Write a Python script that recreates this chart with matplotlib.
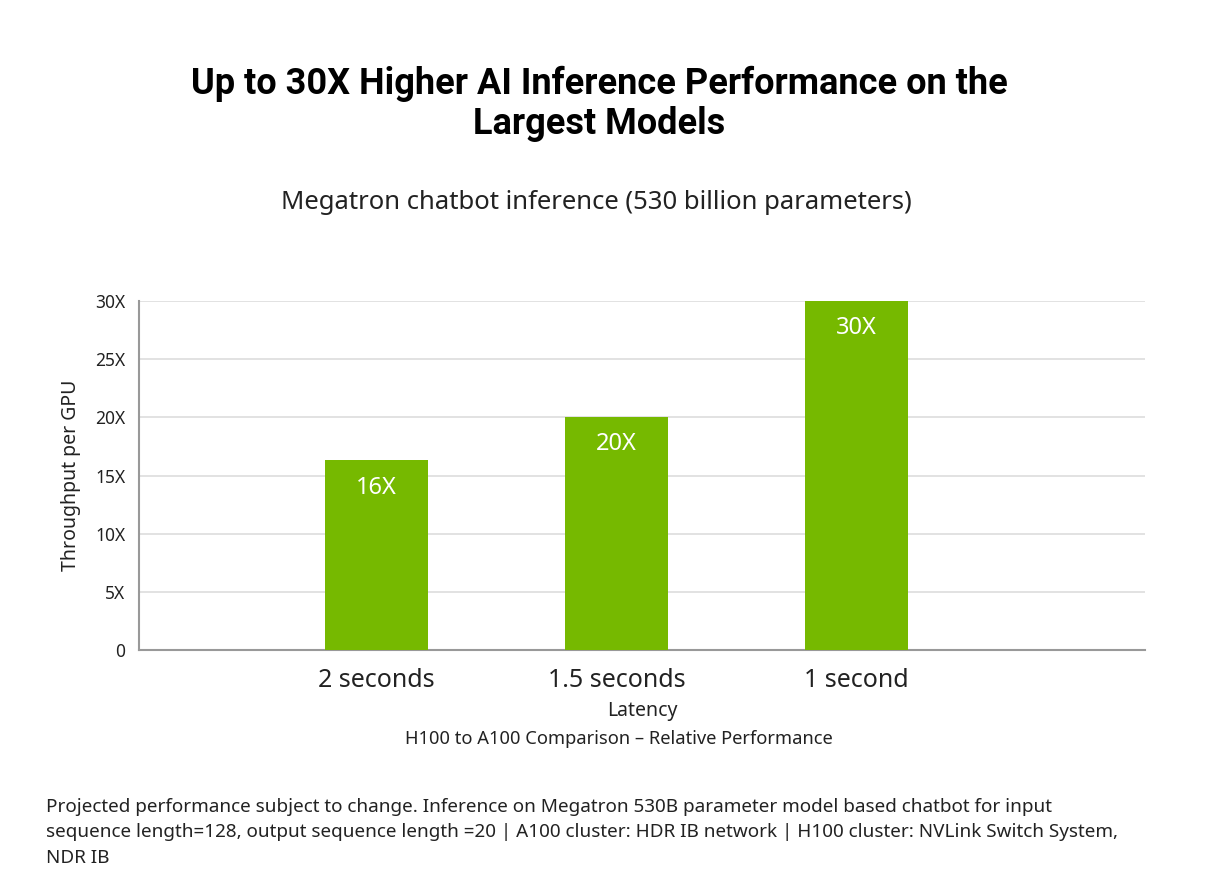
import matplotlib
matplotlib.use("Agg")
import matplotlib.pyplot as plt

plt.rcParams['font.family'] = ['Noto Sans', 'DejaVu Sans']

# Data
categories = ["2 seconds", "1.5 seconds", "1 second"]
speedup = [16.3, 20.0, 30.0]
bar_labels = ["16X", "20X", "30X"]
yticks = [0, 5, 10, 15, 20, 25, 30]
ytick_labels = ["0", "5X", "10X", "15X", "20X", "25X", "30X"]

nv_green = "#76b900"

fig = plt.figure(figsize=(12.05, 8.93), dpi=100)
ax = fig.add_axes([0.1154, 0.2721, 0.8346, 0.3908])

x = range(len(categories))
bars = ax.bar(x, speedup, width=0.43, color=nv_green, zorder=3)
for b, lab in zip(bars, bar_labels):
    ax.text(b.get_x() + b.get_width() / 2, b.get_height() - 1.3, lab,
            ha="center", va="top", color="white", fontsize=17, zorder=4)

ax.set_xlim(-0.99, 3.2)
ax.set_ylim(0, 30)
ax.set_yticks(yticks)
ax.set_yticklabels(ytick_labels, fontsize=12.5, color="#222222")
ax.set_xticks(list(x))
ax.set_xticklabels(categories, fontsize=18, color="#222222")
ax.tick_params(axis="both", length=0)
ax.tick_params(axis="x", pad=13)
ax.tick_params(axis="y", pad=10)
ax.grid(axis="y", color="#dddddd", linewidth=1.2, zorder=0)

for s in ["top", "right"]:
    ax.spines[s].set_visible(False)
for s in ["left", "bottom"]:
    ax.spines[s].set_color("#999999")
    ax.spines[s].set_linewidth(1.5)

ax.set_ylabel("Throughput per GPU", fontsize=14, color="#222222", labelpad=10)
ax.set_xlabel("Latency", fontsize=14, color="#222222", labelpad=6)

fig.text(0.497, 0.884, "Up to 30X Higher AI Inference Performance on the\nLargest Models",
         ha="center", va="center", fontsize=26, fontweight="bold", color="black",
         linespacing=1.15, family=["Roboto", "DejaVu Sans"])
fig.text(0.495, 0.773, "Megatron chatbot inference (530 billion parameters)",
         ha="center", va="center", fontsize=18.5, color="#222222")
fig.text(0.514, 0.173, "H100 to A100 Comparison \u2013 Relative Performance",
         ha="center", va="center", fontsize=13.2, color="#222222")
fig.text(0.038, 0.068,
         "Projected performance subject to change. Inference on Megatron 530B parameter model based chatbot for input\n"
         "sequence length=128, output sequence length =20 | A100 cluster: HDR IB network | H100 cluster: NVLink Switch System,\n"
         "NDR IB",
         ha="left", va="center", fontsize=13.6, color="#222222", linespacing=1.55)

fig.savefig("out.png", dpi=100, facecolor="white")
